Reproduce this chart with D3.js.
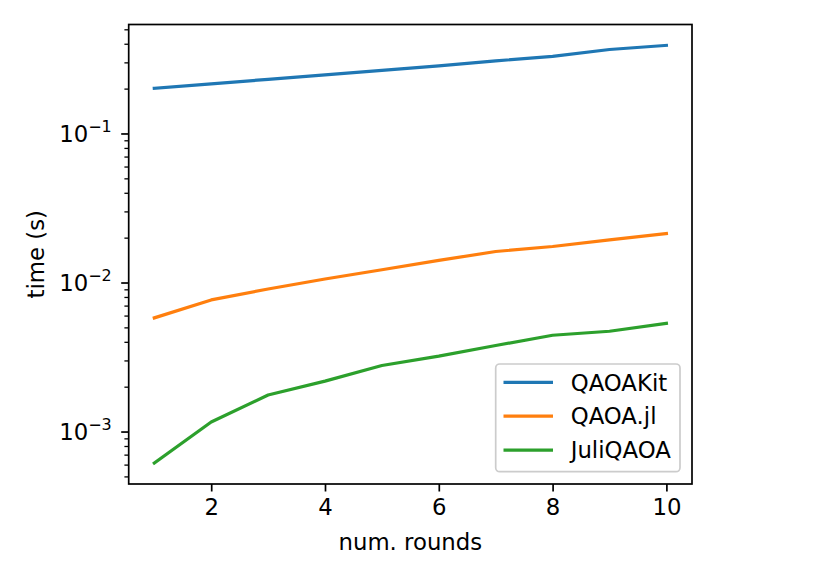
<!DOCTYPE html>
<html>
<head>
<meta charset="utf-8">
<script src="https://cdn.jsdelivr.net/npm/d3@7"></script>
<style>
  html, body { margin: 0; padding: 0; background: #fff; }
  text { font-family: "DejaVu Sans", sans-serif; fill: #000; }
</style>
</head>
<body>
<svg id="chart" width="830" height="581"></svg>
<script>
const rounds = [1, 2, 3, 4, 5, 6, 7, 8, 9, 10];
const qaoakit = [0.201, 0.215, 0.231, 0.247, 0.265, 0.284, 0.307, 0.329, 0.366, 0.390];
const qaoajl = [0.00579, 0.00764, 0.00905, 0.01055, 0.01218, 0.01406, 0.01615, 0.01744, 0.01932, 0.02130];
const juliqaoa = [0.000614, 0.001159, 0.001758, 0.002180, 0.002776, 0.003206, 0.003778, 0.004428, 0.00471, 0.00532];
const seriesNames = ["QAOAKit", "QAOA.jl", "JuliQAOA"];
const seriesColors = ["#1f77b4", "#ff7f0e", "#2ca02c"];
const xTicks = [2, 4, 6, 8, 10];
const yMajorExps = [-3, -2, -1];
const xLabel = "num. rounds";
const yLabel = "time (s)";

const series = [qaoakit, qaoajl, juliqaoa];

const svg = d3.select("#chart");
const L = 128.7, R = 692, T = 24.5, B = 484;
const fs = 22.8;

// x domain with matplotlib 5% margins
const xmin = d3.min(rounds), xmax = d3.max(rounds);
const xm = (xmax - xmin) * 0.05;
const x = d3.scaleLinear().domain([xmin - xm, xmax + xm]).range([L, R]);

// y log domain with 5% margins in log space
const all = series.flat();
const lmin = Math.log10(d3.min(all)), lmax = Math.log10(d3.max(all));
const lm = (lmax - lmin) * 0.05;
const y = d3.scaleLog().domain([Math.pow(10, lmin - lm), Math.pow(10, lmax + lm)]).range([B, T]);

// lines
const line = d3.line().x((d, i) => x(rounds[i])).y(d => y(d));
series.forEach((s, k) => {
  svg.append("path").datum(s)
    .attr("d", line)
    .attr("fill", "none")
    .attr("stroke", seriesColors[k])
    .attr("stroke-width", 3.2)
    .attr("stroke-linejoin", "round")
    .attr("stroke-linecap", "square");
});

// x axis
const xAxis = d3.axisBottom(x).tickValues(xTicks).tickSize(7.5).tickPadding(7).tickFormat(d3.format("d"));
const gx = svg.append("g").attr("transform", `translate(0,${B})`).call(xAxis);
gx.select(".domain").remove();
gx.selectAll(".tick line").attr("stroke", "#000").attr("stroke-width", 1.7);
gx.selectAll(".tick text").attr("font-size", fs).attr("font-family", "DejaVu Sans").attr("fill", "#000");

// y minor ticks
const [d0, d1] = y.domain();
const minors = [];
for (let e = Math.floor(Math.log10(d0)); e <= Math.ceil(Math.log10(d1)); e++) {
  for (let m = 2; m <= 9; m++) {
    const v = m * Math.pow(10, e);
    if (v >= d0 && v <= d1) minors.push(v);
  }
}
const yMinor = d3.axisLeft(y).tickValues(minors).tickSize(4.3).tickFormat("");
const gym = svg.append("g").attr("transform", `translate(${L},0)`).call(yMinor);
gym.select(".domain").remove();
gym.selectAll(".tick line").attr("stroke", "#000").attr("stroke-width", 1.3);

// y major ticks
const yMajorVals = yMajorExps.map(e => Math.pow(10, e));
const yAxis = d3.axisLeft(y).tickValues(yMajorVals).tickSize(7.5).tickPadding(7.5).tickFormat("");
const gy = svg.append("g").attr("transform", `translate(${L},0)`).call(yAxis);
gy.select(".domain").remove();
gy.selectAll(".tick line").attr("stroke", "#000").attr("stroke-width", 1.7);
gy.selectAll(".tick").each(function(d, i) {
  const t = d3.select(this).append("text")
    .attr("x", -17).attr("y", 0).attr("dy", "0.36em")
    .attr("text-anchor", "end").attr("font-size", fs);
  t.append("tspan").text("10");
  t.append("tspan").attr("font-size", fs * 0.7).attr("dy", "-0.62em").text("\u2212" + Math.abs(yMajorExps[i]));
});

// spines
svg.append("rect").attr("x", L).attr("y", T).attr("width", R - L).attr("height", B - T)
  .attr("fill", "none").attr("stroke", "#000").attr("stroke-width", 1.7);

// axis labels
svg.append("text").attr("x", (L + R) / 2).attr("y", 550).attr("text-anchor", "middle")
  .attr("font-size", fs).text(xLabel);
svg.append("text").attr("transform", `translate(44,${(T + B) / 2}) rotate(-90)`)
  .attr("text-anchor", "middle").attr("font-size", fs).text(yLabel);

// legend
const lg = svg.append("g");
lg.append("rect").attr("x", 495.7).attr("y", 364).attr("width", 184.3).attr("height", 107.7)
  .attr("rx", 4).attr("ry", 4)
  .attr("fill", "#fff").attr("fill-opacity", 0.8)
  .attr("stroke", "#cccccc").attr("stroke-width", 1.7);
seriesNames.forEach((n, k) => {
  const yy = 382.3 + k * 33.9;
  lg.append("line").attr("x1", 503.5).attr("x2", 553).attr("y1", yy).attr("y2", yy)
    .attr("stroke", seriesColors[k]).attr("stroke-width", 3.2);
  lg.append("text").attr("x", 570.7).attr("y", yy).attr("dy", "0.36em")
    .attr("font-size", fs).text(n);
});
</script>
</body>
</html>
